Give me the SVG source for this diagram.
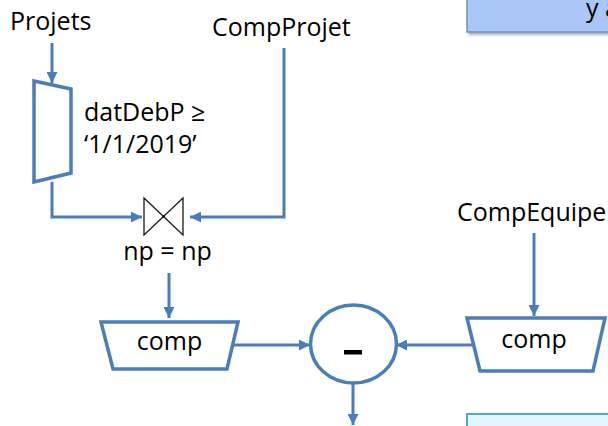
<svg xmlns="http://www.w3.org/2000/svg" width="608" height="426" viewBox="0 0 608 426">
  <style>
    .lbl { font-family: "Open Sans", "Liberation Sans", sans-serif; font-size: 25px; fill: #000; }
    .op { fill: #fff; stroke: #4a7ebb; stroke-width: 3.5; stroke-linejoin: miter; }
    .edge { fill: none; stroke: #4a7ebb; stroke-width: 3; }
    .join { fill: none; stroke: #1a1a1a; stroke-width: 1.3; }
  </style>
  <defs>
    <marker id="arrow" markerUnits="userSpaceOnUse" markerWidth="12" markerHeight="11" refX="11" refY="5.5" orient="auto">
      <path d="M0,0 L11,5.5 L0,11 z" fill="#4a7ebb"/>
    </marker>
    <filter id="shadow" x="-10%" y="-30%" width="130%" height="170%">
      <feDropShadow dx="2" dy="2" stdDeviation="1.5" flood-color="#000" flood-opacity="0.35"/>
    </filter>
  </defs>

  <rect width="608" height="426" fill="#fff"/>

  <!-- side boxes -->
  <g id="noteTop">
    <rect x="467" y="-10" width="160" height="42" fill="#a9c6f6" stroke="#6b8fd0" stroke-width="1.5" filter="url(#shadow)"/>
    <text class="lbl" x="586" y="17">y a</text>
  </g>
  <g id="noteBottom">
    <rect x="467" y="414" width="160" height="30" fill="#e0f7fd" stroke="#4bacc6" stroke-width="2" filter="url(#shadow)"/>
  </g>

  <!-- relation names -->
  <g id="projets"><text class="lbl" x="10" y="30">Projets</text></g>
  <g id="compProjet"><text class="lbl" x="212" y="36">CompProjet</text></g>
  <g id="compEquipe"><text class="lbl" x="457" y="221">CompEquipe</text></g>

  <!-- selection -->
  <g id="selection">
    <polygon class="op" points="34,81 71,89 71,173 34,182"/>
    <text class="lbl" x="84" y="121">datDebP ≥</text>
    <text class="lbl" x="84" y="153">‘1/1/2019’</text>
  </g>

  <!-- join -->
  <g id="join">
    <path class="join" d="M144,198 L183,235 L183,198 L144,235 Z"/>
    <circle cx="163.5" cy="216.5" r="1.6" fill="#1a1a1a"/>
    <text class="lbl" x="167.5" y="260" text-anchor="middle">np = np</text>
  </g>

  <!-- projections -->
  <g id="compLeft">
    <polygon class="op" points="101,322 238,322 227,369 113,369"/>
    <text class="lbl" x="169.5" y="350" text-anchor="middle">comp</text>
  </g>
  <g id="compRight">
    <polygon class="op" points="467,318 605,318 593,371 480,371"/>
    <text class="lbl" x="534" y="348" text-anchor="middle">comp</text>
  </g>

  <!-- difference -->
  <g id="difference">
    <ellipse class="op" cx="353.5" cy="344" rx="43" ry="39"/>
    <rect x="344" y="350" width="18" height="4.5" fill="#000"/>
  </g>

  <!-- connectors -->
  <g id="connectors">
    <path class="edge" d="M52,43 L52,83" marker-end="url(#arrow)"/>
    <path class="edge" d="M52,182 L52,217 L142,217" marker-end="url(#arrow)"/>
    <path class="edge" d="M284,48 L284,217 L190,217" marker-end="url(#arrow)"/>
    <path class="edge" d="M169,273 L169,318" marker-end="url(#arrow)"/>
    <path class="edge" d="M232,345 L310,345" marker-end="url(#arrow)"/>
    <path class="edge" d="M534,233 L534,316" marker-end="url(#arrow)"/>
    <path class="edge" d="M473,345 L396,345" marker-end="url(#arrow)"/>
    <path class="edge" d="M353,383 L353,425" marker-end="url(#arrow)"/>
  </g>
</svg>
